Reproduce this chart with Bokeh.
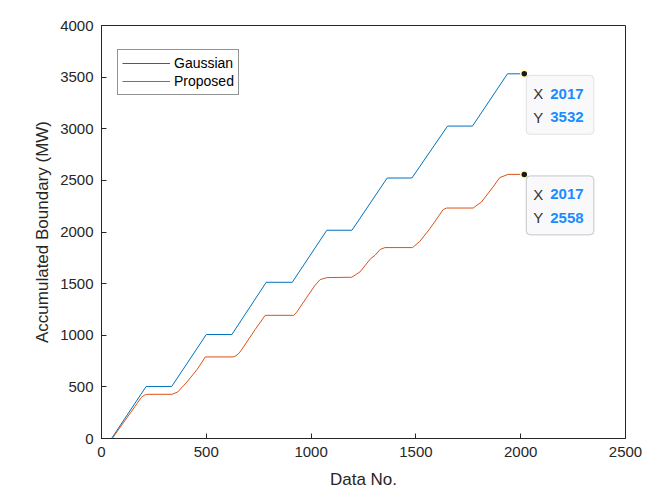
from bokeh.plotting import figure
from bokeh.models import Legend, LegendItem, Label, BoxAnnotation, Range1d, ColumnDataSource
from bokeh.embed import file_html
from bokeh.resources import INLINE

# ---- data ----
gauss_x = [0, 48, 213, 335, 500, 622, 786, 910, 1075, 1195, 1363, 1481, 1651, 1770, 1937, 2017]
gauss_y = [0, 0, 504, 504, 1007, 1007, 1513, 1513, 2017, 2017, 2523, 2523, 3026, 3026, 3532, 3532]

prop_x = [0, 51, 170, 190, 205, 220, 337, 364, 408, 456, 480, 495, 628, 642, 656, 668, 733, 781,
          917, 932, 975, 1019, 1043, 1075, 1194, 1233, 1284, 1305, 1329, 1352, 1484, 1519,
          1567, 1630, 1646, 1773, 1813, 1868, 1900, 1940, 2017]
prop_y = [0, 0, 340, 398, 420, 428, 428, 451, 548, 668, 741, 790, 790, 802, 826, 858, 1055, 1193,
          1193, 1226, 1355, 1484, 1539, 1558, 1562, 1613, 1742, 1774, 1830, 1849, 1849, 1910,
          2033, 2217, 2232, 2232, 2291, 2436, 2527, 2558, 2558]

series_names = ["Gaussian", "Proposed"]
series_colors = ["#0072BD", "#D95319"]
x_ticks = [0, 500, 1000, 1500, 2000, 2500]
y_ticks = [0, 500, 1000, 1500, 2000, 2500, 3000, 3500, 4000]
x_label = "Data No."
y_label = "Accumulated Boundary (MW)"

X0, X1, Y0, Y1 = 0, 2500, 0, 4000
FW, FH = 524, 413

p = figure(frame_width=FW, frame_height=FH, output_backend="svg", toolbar_location=None,
           x_range=Range1d(X0, X1), y_range=Range1d(Y0, Y1),
           min_border_left=101, min_border_right=30, min_border_top=25, min_border_bottom=56)
p.background_fill_color = "white"
p.border_fill_color = "white"
p.outline_line_color = "#262626"
p.outline_line_width = 1
p.xgrid.visible = False
p.ygrid.visible = False

for ax, ticks in ((p.xaxis[0], x_ticks), (p.yaxis[0], y_ticks)):
    ax.ticker = ticks
    ax.major_tick_in = 5
    ax.major_tick_out = 0
    ax.minor_tick_line_color = None
    ax.axis_line_color = "#262626"
    ax.major_tick_line_color = "#262626"
    ax.major_label_text_font = "Liberation Sans"
    ax.major_label_text_font_size = "15px"
    ax.major_label_text_color = "#262626"
    ax.major_label_standoff = 8
    ax.axis_label_text_font = "Liberation Sans"
    ax.axis_label_text_font_size = "17px"
    ax.axis_label_text_font_style = "normal"
    ax.axis_label_text_color = "#262626"

p.xaxis.axis_label = x_label
p.yaxis.axis_label = y_label
p.xaxis.axis_label_standoff = 10
p.yaxis.axis_label_standoff = 5

src_g = ColumnDataSource(dict(x=gauss_x, y=gauss_y))
src_p = ColumnDataSource(dict(x=prop_x, y=prop_y))
rg = p.line("x", "y", source=src_g, line_color=series_colors[0], line_width=1)
rp = p.line("x", "y", source=src_p, line_color=series_colors[1], line_width=1)

legend = Legend(items=[LegendItem(label=series_names[0], renderers=[rg]),
                       LegendItem(label=series_names[1], renderers=[rp])],
                location=(16, 343))
legend.border_line_color = "#262626"
legend.border_line_width = 1
legend.background_fill_color = "white"
legend.background_fill_alpha = 1
legend.label_text_font = "Liberation Sans"
legend.label_text_font_size = "14px"
legend.label_text_color = "#000000"
legend.glyph_width = 48
legend.glyph_height = 18
legend.label_height = 18
legend.label_standoff = 4
legend.spacing = 0
legend.padding = 4
legend.margin = 0
p.add_layout(legend, "center")

# data tips at the last point of each series
sx = FW / (X1 - X0)
sy = FH / (Y1 - Y0)
tips = [(gauss_x[-1], gauss_y[-1], "#a6a6a6"), (prop_x[-1], prop_y[-1], "#4d4d4d")]
for tx, ty, bc in tips:
    box = BoxAnnotation(left=tx + 2 / sx, right=tx + 69.6 / sx,
                        top=ty - 1.5 / sy, bottom=ty - 60.5 / sy,
                        fill_color="#f9f9fc", fill_alpha=1,
                        line_color=bc, line_width=1, border_radius=4)
    p.add_layout(box)
    for row, (name, val) in enumerate((("X", tx), ("Y", ty))):
        p.add_layout(Label(x=tx, y=ty, x_offset=9, y_offset=-20 - 23.5 * row, text=name,
                           text_font="Liberation Sans", text_font_size="15px",
                           text_color="#333333", text_baseline="middle"))
        p.add_layout(Label(x=tx, y=ty, x_offset=26, y_offset=-20 - 23.5 * row, text=str(val),
                           text_font="Liberation Sans", text_font_size="15px",
                           text_font_style="bold",
                           text_color="#1a8cff", text_baseline="middle"))

p.scatter([t[0] for t in tips], [t[1] for t in tips], size=7, fill_color="#1a1a1a",
          line_color="#ffffc0", line_width=1.5)

open("out.html", "w").write(file_html(p, INLINE))
